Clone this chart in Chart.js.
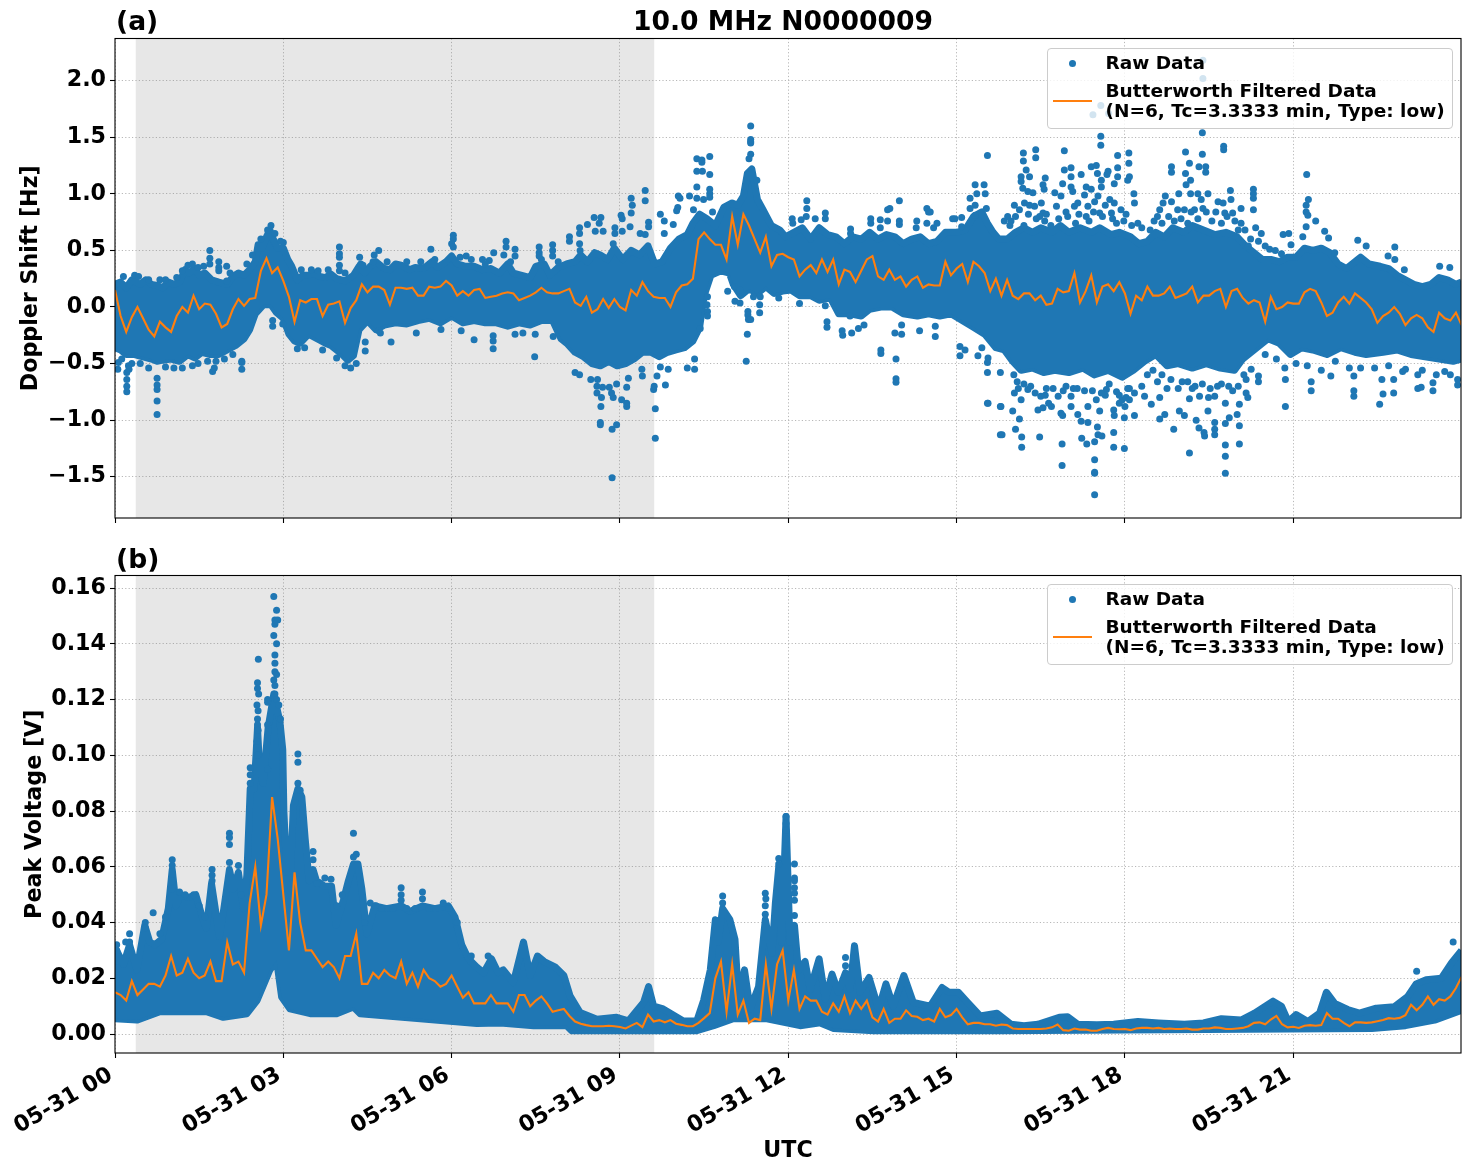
<!DOCTYPE html>
<html>
<head>
<meta charset="utf-8">
<title>10.0 MHz N0000009</title>
<script src="https://cdn.jsdelivr.net/npm/chart.js@4"></script>
<style>
    html, body { margin: 0; padding: 0; background: #fff; }
    #page { position: relative; width: 1471px; height: 1172px; overflow: hidden; font-family: "DejaVu Sans", sans-serif; font-weight: bold; color: #000; }
    canvas { position: absolute; left: 0; display: block; }
    #chartShift { top: 0; }
    #chartVoltage { top: 540px; }
    .lbl { position: absolute; white-space: nowrap; line-height: 1; }
    .title { font-size: 26.6px; }
    .legend { position: absolute; left: 1046.5px; width: 404px; height: 79px; background: rgba(255,255,255,0.8); border: 1px solid #ccc; border-radius: 4px; font-size: 18.5px; }
    .legend span { position: absolute; left: 58px; white-space: nowrap; line-height: 20px; }
    .legend .dot { position: absolute; left: 21.5px; top: 11px; width: 7px; height: 7px; border-radius: 50%; background: #1f77b4; }
    .legend .dash { position: absolute; left: 5px; top: 51px; width: 39px; height: 2px; background: #ff7f0e; }
</style>
</head>
<body>
<div id="page">
    <canvas id="chartShift" width="1471" height="540"></canvas>
    <canvas id="chartVoltage" width="1471" height="632"></canvas>

    <div class="lbl title" style="left:116px;top:8px">(a)</div>
    <div class="lbl title" style="left:633px;top:8px">10.0 MHz N0000009</div>
    <div class="lbl title" style="left:116px;top:546px">(b)</div>

    <div class="legend" style="top:48px">
        <i class="dot"></i><span style="top:4px">Raw Data</span>
        <i class="dash"></i><span style="top:32px">Butterworth Filtered Data<br>(N=6, Tc=3.3333 min, Type: low)</span>
    </div>
    <div class="legend" style="top:584px">
        <i class="dot"></i><span style="top:4px">Raw Data</span>
        <i class="dash"></i><span style="top:32px">Butterworth Filtered Data<br>(N=6, Tc=3.3333 min, Type: low)</span>
    </div>
</div>

<script>
// shaded night interval, hours UTC
const nightStart = 0.37;
const nightEnd = 9.61;

const hourTicks = [0, 3, 6, 9, 12, 15, 18, 21];
const hourLabels = ["05-31 00", "05-31 03", "05-31 06", "05-31 09", "05-31 12", "05-31 15", "05-31 18", "05-31 21"];
const shiftTickValues = [-1.5, -1, -0.5, 0, 0.5, 1, 1.5, 2];
const voltageTickValues = [0, 0.02, 0.04, 0.06, 0.08, 0.1, 0.12, 0.14, 0.16];

// low-pass filtered Doppler shift [Hz], one value every 0.1 h
const filteredShift = [
    .15,-.08,-.22,-.09,0,-.1,-.2,-.26,-.13,-.18,-.22,-.08,0,-.05,.1,-.02,.03,.02,-.06,-.18,
    -.15,-.02,.07,.01,.07,.08,.32,.43,.3,.35,.23,.09,-.13,.06,.04,.07,.07,-.08,.02,.03,
    .05,-.14,-.01,.06,.2,.13,.18,.18,.15,.02,.17,.17,.16,.17,.1,.1,.18,.17,.18,.23,
    .19,.1,.14,.1,.15,.16,.08,.09,.1,.12,.13,.12,.06,.08,.1,.13,.17,.13,.12,.12,
    .14,.16,.04,.01,.09,-.05,-.02,.07,-.01,.07,0,-.03,.15,.1,.22,.14,.09,.08,.08,0,
    .13,.19,.2,.25,.6,.66,.6,.55,.55,.42,.8,.55,.82,.72,.6,.48,.62,.36,.46,.47,
    .44,.42,.27,.33,.37,.3,.42,.31,.42,.2,.33,.31,.22,.32,.42,.45,.27,.24,.33,.24,
    .27,.18,.24,.27,.17,.2,.19,.19,.4,.28,.34,.38,.22,.4,.36,.3,.14,.25,.1,.24,
    .1,.07,.12,.12,.06,.1,.02,.03,.16,.13,.14,.3,.04,.14,.28,.04,.18,.2,.14,.22,
    .12,-.06,.1,.06,.18,.1,.1,.12,.18,.08,.1,.12,.18,.04,.1,.1,.14,.16,0,.14,
    .16,.08,.03,.06,.04,-.13,.09,-.02,0,.04,.03,.03,.13,.16,.14,.04,-.08,-.05,.04,.09,
    .03,.12,.08,.04,-.02,-.14,-.08,-.05,0,-.06,-.16,-.1,-.07,-.1,-.18,-.22,-.05,-.1,-.12,-.05,
    -.16
];

// low-pass filtered peak voltage [V], one value every 0.1 h
const filteredVoltage = [
    .015,.014,.012,.019,.014,.016,.018,.018,.017,.021,.028,.021,.022,.027,.022,.02,.021,.026,.019,.019,
    .033,.025,.026,.022,.047,.06,.039,.05,.085,.07,.05,.03,.058,.04,.03,.03,.027,.024,.026,.024,
    .02,.028,.028,.036,.018,.018,.022,.02,.023,.021,.02,.026,.018,.022,.017,.023,.02,.019,.017,.018,
    .021,.017,.013,.015,.011,.011,.011,.014,.011,.011,.011,.008,.014,.014,.01,.012,.0135,.011,.008,.0085,
    .009,.0065,.0045,.0037,.0032,.0028,.0028,.0028,.003,.0028,.0025,.002,.003,.004,.0025,.007,.0045,.005,.0042,.005,
    .0037,.0033,.0028,.0028,.004,.0057,.0075,.02,.026,.008,.025,.007,.012,.004,.0055,.005,.025,.009,.025,.03,
    .012,.023,.009,.0135,.012,.012,.008,.007,.011,.008,.0135,.0075,.012,.009,.012,.006,.0045,.009,.004,.0055,
    .0055,.0085,.0065,.0062,.005,.0055,.0045,.009,.006,.0068,.009,.006,.0035,.004,.004,.0035,.0035,.003,.0034,.0032,
    .002,.0018,.0018,.0018,.0018,.0018,.002,.0024,.0034,.0014,.0012,.002,.0016,.0016,.0012,.0012,.0018,.0022,.0018,.0017,
    .0018,.0014,.002,.0022,.0022,.002,.0022,.0018,.002,.0018,.0018,.002,.0016,.0016,.002,.002,.0024,.0022,.0018,.0018,
    .002,.0022,.0028,.004,.0042,.0035,.0052,.0065,.0035,.0024,.0026,.0022,.003,.0032,.003,.0032,.0075,.0055,.0055,.004,
    .0028,.0042,.0042,.004,.0042,.0046,.005,.0057,.0055,.0058,.0068,.0105,.0085,.0105,.0135,.0105,.0125,.012,.0135,.0165,
    .0205
];

// outer edges of the solid raw-data band, [hour, Hz]
const shiftBandTop = [
    [0,.2],[.1,.22],[.2,.17],[.3,.24],[.45,.2],[.55,.24],[.65,.2],[.75,.19],[.85,.17],[.95,.22],[1.05,.2],[1.15,.22],[1.25,.33],[1.32,.3],[1.42,.34],[1.5,.28],[1.6,.3],[1.72,.24],[1.85,.22],[2,.2],
    [2.1,.27],[2.2,.3],[2.3,.28],[2.4,.33],[2.5,.4],[2.55,.55],[2.62,.52],[2.7,.62],[2.76,.68],[2.82,.6],[2.9,.52],[3,.52],[3.08,.42],[3.15,.36],[3.25,.24],[3.35,.28],[3.45,.28],[3.55,.3],[3.65,.27],
    [3.75,.26],[3.85,.29],[3.95,.25],[4.1,.23],[4.25,.28],[4.35,.36],[4.45,.3],[4.55,.36],[4.65,.4],[4.8,.34],[4.9,.33],[5,.38],[5.1,.37],[5.25,.33],[5.35,.35],[5.5,.34],[5.65,.4],[5.75,.35],[5.9,.4],
    [6,.45],[6.1,.38],[6.25,.36],[6.4,.36],[6.55,.33],[6.7,.34],[6.85,.3],[7,.38],[7.1,.3],[7.25,.28],[7.4,.26],[7.5,.36],[7.65,.38],[7.75,.28],[7.9,.35],[8.05,.38],[8.2,.4],[8.3,.46],[8.42,.4],
    [8.55,.48],[8.65,.46],[8.78,.42],[8.9,.52],[9.05,.42],[9.2,.5],[9.35,.46],[9.5,.54],[9.62,.38],[9.75,.4],[9.9,.52],[10.05,.6],[10.2,.64],[10.3,.74],[10.42,.82],[10.55,.78],[10.7,.72],[10.85,.88],
    [11,.92],[11.1,.9],[11.2,.98],[11.27,1.18],[11.35,1.22],[11.45,.95],[11.55,.86],[11.7,.72],[11.85,.68],[11.95,.62],[12.1,.66],[12.25,.7],[12.4,.6],[12.55,.7],[12.7,.64],[12.85,.62],[13,.56],
    [13.15,.62],[13.3,.6],[13.45,.66],[13.6,.6],[13.75,.64],[13.9,.62],[14.05,.56],[14.2,.6],[14.35,.62],[14.5,.56],[14.65,.58],[14.8,.66],[15,.66],[15.15,.68],[15.3,.8],[15.45,.84],[15.55,.74],[15.65,.66],
    [15.75,.6],[15.9,.6],[16.05,.66],[16.2,.7],[16.35,.66],[16.5,.7],[16.7,.66],[16.85,.72],[17,.66],[17.2,.7],[17.4,.66],[17.55,.7],[17.75,.64],[17.9,.66],[18.1,.62],[18.25,.56],[18.4,.58],[18.55,.66],
    [18.7,.62],[18.85,.7],[19.05,.66],[19.2,.72],[19.4,.68],[19.6,.64],[19.8,.66],[20,.62],[20.15,.54],[20.3,.48],[20.45,.42],[20.6,.42],[20.75,.4],[20.9,.44],[21.05,.44],[21.2,.52],[21.35,.5],[21.5,.52],
    [21.65,.48],[21.8,.38],[21.95,.34],[22.1,.4],[22.2,.44],[22.35,.38],[22.55,.36],[22.7,.34],[22.85,.28],[23,.24],[23.15,.2],[23.3,.18],[23.45,.2],[23.6,.26],[23.75,.24],[23.9,.2],[24,.22]
];
const shiftBandBottom = [
    [0,-.36],[.1,-.38],[.2,-.42],[.35,-.42],[.5,-.44],[.65,-.46],[.75,-.48],[.85,-.47],[1,-.46],[1.15,-.48],[1.3,-.42],[1.42,-.45],[1.55,-.4],[1.7,-.42],[1.85,-.42],[2,-.38],[2.15,-.34],[2.3,-.28],[2.4,-.2],
    [2.5,-.06],[2.65,.02],[2.78,.02],[2.88,-.05],[3,-.1],[3.1,-.24],[3.2,-.3],[3.3,-.32],[3.45,-.24],[3.6,-.28],[3.75,-.32],[3.85,-.34],[3.95,-.38],[4.05,-.42],[4.15,-.47],[4.25,-.43],[4.35,-.2],[4.5,-.12],
    [4.65,-.2],[4.8,-.16],[5,-.14],[5.2,-.15],[5.4,-.12],[5.6,-.1],[5.8,-.14],[6,-.08],[6.2,-.14],[6.4,-.12],[6.6,-.14],[6.8,-.14],[7,-.17],[7.2,-.14],[7.4,-.16],[7.6,-.12],[7.8,-.12],[7.95,-.28],[8.05,-.32],
    [8.2,-.4],[8.35,-.44],[8.5,-.5],[8.65,-.52],[8.8,-.48],[8.95,-.52],[9.1,-.5],[9.25,-.46],[9.4,-.4],[9.55,-.4],[9.7,-.44],[9.85,-.4],[10,-.38],[10.15,-.36],[10.3,-.3],[10.42,-.18],[10.5,.1],[10.62,.28],
    [10.8,.32],[10.95,.3],[11.02,.2],[11.15,.1],[11.3,.16],[11.45,.12],[11.6,.18],[11.75,.12],[11.9,.14],[12.05,.15],[12.2,.1],[12.4,.1],[12.55,.06],[12.75,.08],[12.9,-.06],[13.1,-.06],[13.3,-.08],[13.45,-.02],
    [13.65,0],[13.85,0],[14.05,-.06],[14.3,-.08],[14.5,-.06],[14.7,-.08],[14.9,-.06],[15.1,-.12],[15.3,-.18],[15.5,-.24],[15.7,-.36],[15.85,-.38],[16,-.48],[16.15,-.56],[16.35,-.54],[16.55,-.58],[16.75,-.56],[17,-.58],
    [17.25,-.54],[17.45,-.6],[17.7,-.56],[17.95,-.62],[18.15,-.56],[18.35,-.48],[18.55,-.42],[18.75,-.52],[18.95,-.5],[19.2,-.54],[19.45,-.5],[19.7,-.54],[19.95,-.56],[20.1,-.46],[20.3,-.38],[20.55,-.28],[20.75,-.32],
    [20.95,-.42],[21.15,-.36],[21.35,-.38],[21.6,-.42],[21.85,-.36],[22.1,-.4],[22.3,-.42],[22.6,-.4],[22.85,-.38],[23.1,-.42],[23.35,-.44],[23.6,-.46],[23.85,-.48],[24,-.46]
];

// raw-data samples standing clear of the band, [hour, Hz]
const rawShift = [
    [.21,-.75],[.21,-.7],[.21,-.64],[.21,-.58],[.24,-.52],[.25,-.55],[.06,-.49],[.05,-.55],[.75,-.95],[.75,-.83],[.75,-.73],[.75,-.69],[.75,-.63],
    [1.69,.5],[1.69,.43],[1.69,.38],[1.85,.4],[1.85,.35],[1.85,.32],[1.99,.36],[1.99,.23],[1.74,-.57],[1.77,-.54],[2.26,-.55],[2.26,-.49],[2.26,-.48],
    [2.81,-.17],[2.81,-.12],[2.99,-.15],[3,.57],[4,.53],[4,.47],[4,.44],[4,.37],[4,.32],[4.36,.44],[4.38,.38],[4.7,.5],[4.62,.46],[4.46,-.39],[4.46,-.31],
    [4.7,-.21],[4.73,-.23],[4.92,-.31],[5.37,-.23],[5.63,.51],[6.03,.635],[6.03,.6],[6,.56],[6.03,.53],[6.26,.45],[6.75,.48],[6.55,.42],[6.67,.41],[6.4,-.29],
    [6.74,-.37],[6.74,-.3],[6.74,-.255],[5.81,-.2],[6.17,-.21],
    [.15,.27],[.35,.28],[.42,.27],[.6,.24],[.8,.24],[.9,.24],[1.1,.26],[1.2,.32],[1.3,.37],[1.38,.38],[1.48,.35],[1.58,.36],[2.05,.3],[2.35,.38],[2.45,.46],[2.6,.6],[2.72,.68],[2.78,.72],[2.85,.65],[2.95,.58],
    [3.32,.33],[3.5,.33],[3.62,.32],[3.8,.33],[4.1,.3],[4.42,.37],[4.6,.4],[4.85,.4],[5.2,.4],[5.45,.4],[5.7,.42],[6.15,.44],[6.35,.42],[6.6,.38],[7.05,.4],[7.6,.42],[7.9,.4],
    [.12,-.46],[.3,-.5],[.45,-.5],[.6,-.54],[.9,-.53],[1.05,-.54],[1.2,-.54],[1.38,-.52],[1.48,-.5],[1.65,-.48],[1.8,-.48],[1.95,-.46],[2.1,-.42],[3.25,-.37],[3.38,-.36],[3.7,-.38],[3.95,-.45],[4.1,-.52],[4.2,-.54],[4.3,-.5],
    [6.97,.58],[6.97,.53],[7.13,.51],[7.13,.45],[6.93,.46],[7.56,.53],[7.56,.48],[7.56,.45],[7.8,.55],[7.8,.5],[7.8,.45],[7.48,-.44],[7.13,-.24],[7.27,-.23],[7.49,-.24],[7.81,-.26],
    [8.28,.7],[8.28,.65],[8.28,.56],[8.29,.5],[8.42,.73],[8.54,.79],[8.66,.79],[8.63,.74],[8.56,.67],[8.7,.67],[8.91,.7],[8.91,.65],[8.88,.56],[9.02,.81],[9.04,.78],[9.04,.67],
    [9.2,.83],[9.22,.9],[9.2,.96],[9.45,1.03],[9.45,.94],[9.51,.75],[9.51,.71],[9.18,.71],[9.36,.65],[9.45,.64],[8.1,.62],[8.1,.58],
    [8.2,-.58],[8.28,-.6],[8.48,-.64],[8.6,-.64],[8.59,-.7],[8.59,-.76],[8.69,-.71],[8.67,-.8],[8.66,-.88],[8.65,-1.04],[8.65,-1.02],[8.86,-1.08],[8.94,-1.04],[8.86,-1.51],
    [8.88,-.8],[8.85,-.76],[8.94,-.68],[8.81,-.71],[9.03,-.82],[9.12,-.88],[9.12,-.85],[9.12,-.71],[9.15,-.63],[9.4,-.61],[9.39,-.55],[9.6,-.73],[9.61,-.7],[9.63,-.9],[9.63,-1.16],
    [9.81,-.69],[9.86,-.55],[10.2,-.54],[10.33,-.55],[10.33,-.46],[9.72,-.53],[9.66,-.61],
    [9.72,.82],[9.79,.76],[9.79,.65],[9.95,.73],[10.04,.98],[10.07,.96],[10.03,.88],[10.01,.85],[10.24,.98],[10.31,.86],[10.37,1.31],[10.37,1.2],[10.37,1.06],
    [10.46,1.3],[10.46,1.28],[10.47,1.2],[10.6,1.33],[10.6,1.17],[10.6,1.04],[10.6,1],[10.6,.97],[10.37,.96],[10.49,.95],[10.65,.84],
    [11.33,1.6],[11.33,1.48],[11.33,1.46],[11.33,1.45],[11.33,1.35],[11.3,1.31],[11.44,1.12],
    [10.56,.09],[10.55,.02],[10.56,-.04],[10.56,-.08],[10.43,-.19],[10.92,.14],[11.04,.18],[11.14,.15],[11.05,.05],[11.14,.035],[11.28,-.04],[11.28,-.07],[11.29,-.11],[11.33,-.11],
    [11.27,-.24],[11.25,-.48],[11.38,.09],[11.49,-.05],[11.49,.02],[11.5,.09],[11.83,.08],[12.2,.03],[12.66,.01],
    [12.33,.94],[12.33,.87],[12.32,.8],[12.07,.78],[12.08,.74],[12.23,.77],[12.66,.83],[12.66,.78],[12.48,.78],[13.11,.69],[13.11,.65],[13.47,.78],[13.47,.74],[13.64,.77],[13.64,.7],
    [13.77,.86],[13.81,.87],[13.98,.94],[13.98,.76],[13.98,.73],[13.77,.76],[14.29,.76],[14.28,.7],[14.47,.87],[14.5,.84],[14.53,.84],[14.47,.74],[14.59,.7],[14.65,.74],
    [14.93,.78],[14.97,.78],[15.09,.79],[15.09,.71],[15.24,.96],[15.33,.9],[15.33,1.08],[15.36,1],[15.49,1.08],[15.51,1],[15.24,.87],[15.33,.81],[15.53,.87],[15.55,1.34],
    [12.69,-.13],[12.69,-.18],[12.96,-.21],[12.97,-.25],[13.13,-.23],[13.1,-.08],[13.25,-.19],[13.35,-.16],[13.65,-.38],[13.65,-.41],[13.92,-.46],[13.92,-.635],[13.92,-.665],
    [14.02,-.16],[14.02,-.24],[13.9,-.23],[14.34,-.21],[14.62,-.17],[14.62,-.26],[15.06,-.35],[15.06,-.43],[15.15,-.38],[15.38,-.43],[15.45,-.36],[15.56,-.45],[15.55,-.49],[15.55,-.58],
    [15.55,-.85],[15.78,-.88],[15.78,-1.13],[15.78,-.58],
    [16.19,1.36],[16.19,1.29],[16.41,1.39],[16.41,1.32],[16.92,1.38],[17.57,1.51],[17.57,1.43],[18.07,1.36],[18.07,1.27],[17.87,1.34],[19.08,1.37],[19.38,1.54],[19.38,1.35],
    [19.76,1.42],[19.76,1.39],[19.15,1.27],[19.08,1.18],[19.32,1.24],[19.44,1.24],[19.44,1.19],[18.83,1.24],[18.83,1.19],[21.24,1.17],[21.27,.95],
    [17.43,1.7],[17.57,1.78],[17.71,1.71],[19.39,2.18],[19.39,2.02],
    [15.85,.76],[15.91,.8],[15.97,.76],[16.03,.9],[16.15,1.15],[16.15,1.11],[16.18,1.05],[16.24,1.21],[16.3,1.15],[16.21,.92],[16.27,1.02],[16.3,.9],[16.12,.86],[16.36,1.01],[16.39,.89],
    [16.54,1.08],[16.56,1.04],[16.51,.92],[16.58,1.14],[16.54,.83],[16.48,.8],[16.57,.76],[16.75,1.01],[16.78,.89],[16.86,.98],[16.89,1.09],[16.95,.84],[16.92,1.21],[17.04,1.23],
    [17.04,1.15],[17.04,1.06],[17.07,1.02],[17.1,.89],[17.22,1.17],[17.31,1.06],[17.28,.99],[17.16,.92],[17.34,.89],[17.31,.8],[17.4,1.24],[17.49,1.25],[17.51,1.18],[17.4,1.04],
    [17.52,.98],[17.46,.93],[17.58,1.12],[17.58,1.06],[17.7,1.2],[17.68,1.17],[17.73,.95],[17.55,.83],[17.81,.92],[17.87,1.23],[17.87,1.15],[17.81,1.09],[17.93,.86],[18.08,1.15],
    [18.05,1.12],[18.16,1],[18.17,.92],[18.23,.74],[17.76,.83],[18.62,.86],[18.68,.92],[18.72,.98],[18.83,.93],[18.96,1],[18.94,.86],[19.06,.86],[19.17,1],[19.18,.84],[19.17,1.12],
    [19.09,1.08],[19.3,1],[19.36,.95],[19.48,1],[19.39,.87],[19.66,.93],[19.75,.92],[19.78,.83],[19.89,.95],[19.92,.83],[19.88,1.03],[20.07,.87],[20.07,.74],[20.29,1.04],[20.29,1],
    [20.29,.96],[20.29,.86],[20.33,.7],[20.43,.65],[20.2,.54],[20.58,.51],[20.79,.47],[20.82,.64],[20.92,.65],[20.96,.55],[21.17,.62],[21.23,.9],[21.23,.84],[21.26,.81],[21.4,.76],
    [21.23,.71],[21.56,.67],[21.63,.61],[22.15,.59],[22.3,.54],[22.81,.53],[22.69,.45],[23.61,.36],[23.79,.35],[22.98,.33],[22.81,.42],[21.74,.48],
    [15.95,.72],[16.05,.8],[16.2,.72],[16.28,.82],[16.42,.78],[16.6,.82],[16.68,.72],[16.82,.78],[16.98,.8],[17.12,.74],[17.18,.82],[17.36,.76],[17.44,.84],[17.6,.8],[17.65,.9],[17.78,.78],[17.85,.74],[17.98,.76],[18.02,.82],[18.12,.72],
    [18.3,.7],[18.45,.68],[18.52,.76],[18.58,.8],[18.66,.74],[18.78,.8],[18.88,.76],[19,.78],[19.12,.74],[19.24,.86],[19.3,.78],[19.45,.84],[19.55,.76],[19.62,.84],[19.72,.74],[19.82,.8],[19.96,.76],[20.02,.68],[20.14,.68],[20.24,.6],[20.38,.58],[20.5,.54],[20.68,.5],
    [15.56,-.85],[15.79,-.88],[15.81,-1.13],[16,-.92],[16.12,-.99],[16.05,-1.08],[16.16,-1.15],[16.16,-1.24],[16.48,-1.15],[16.5,-.79],[16.69,-.88],[16.64,-.85],[16.86,-.94],[16.89,-.96],
    [16.88,-1.21],[16.88,-1.4],[17.04,-.79],[17.16,-.95],[17.22,-1.01],[17.34,-1.02],[17.23,-1.16],[17.32,-1.21],[17.46,-1.19],[17.46,-1.35],[17.46,-1.46],[17.46,-1.47],[17.46,-1.66],
    [17.51,-1.06],[17.52,-1.13],[17.59,-1.14],[17.8,-1.11],[17.8,-1.24],[17.99,-1.25],[17.99,-.98],[17.8,-.91],[17.81,-.96],[18.17,-.96],[18.08,-.82],[18.17,-.76],[16.15,-.82],[16.27,-.73],
    [16.03,-.76],[16.45,-.91],[16.54,-.89],[16.81,-.79],[17.04,-.88],[17.34,-.88],[17.55,-.92],[17.67,-.73],[17.49,-.82],[18.35,-.79],[18.47,-.86],[18.62,-.99],[18.71,-.95],[18.62,-.8],
    [18.87,-1.08],[18.97,-.92],[19.06,-.96],[19.15,-.81],[19.15,-1.29],[19.27,-1],[19.32,-1.07],[19.41,-1.11],[19.42,-1.14],[19.48,-.92],[19.6,-1.02],[19.6,-1.08],[19.6,-1.13],
    [19.33,-.79],[19.49,-.8],[19.6,-.79],[19.79,-.85],[19.79,-1.03],[19.79,-1.22],[19.79,-1.32],[19.79,-1.47],[19.86,-.98],[20,-.95],[20.04,-1.05],[20.04,-1.21],[20.04,-.86],[20.16,-.76],
    [20.19,-.8],[20.16,-.64],[20.38,-.61],[20.38,-.66],[20.86,-.64],[20.86,-.88],[21.32,-.66],[21.32,-.74],[21.67,-.61],[22.08,-.61],[22.08,-.74],[22.08,-.79],[22.54,-.86],[22.58,-.64],
    [22.6,-.77],[22.79,-.76],[22.79,-.64],[22.95,-.57],[23.22,-.72],[23.28,-.71],[23.49,-.74],[23.49,-.67],[23.93,-.69],[23.93,-.64],[23.22,-.6],[23.7,-.57],
    [16.1,-.72],[16.6,-.72],[16.95,-.7],[17.15,-.72],[17.65,-.78],[17.85,-.75],[18.05,-.72],[18.3,-.7],[18.75,-.72],[18.95,-.72],[19.2,-.72],[19.65,-.7],[19.85,-.7],[17.95,-.82],[17.9,-.85],[18,-.88],[18.02,-.8],
    [16.02,-.6],[16.08,-.66],[16.2,-.68],[16.32,-.7],[16.4,-.76],[16.58,-.78],[16.72,-.72],[16.9,-.74],[17.08,-.72],[17.28,-.74],[17.42,-.74],[17.58,-.76],[17.72,-.68],[17.9,-.78],[18.08,-.72],
    [18.4,-.6],[18.5,-.56],[18.58,-.66],[18.66,-.6],[18.82,-.64],[19.02,-.66],[19.12,-.66],[19.25,-.7],[19.38,-.68],[19.52,-.72],[19.72,-.68],[19.92,-.74],[20.02,-.7],[20.12,-.6],[20.25,-.55],[20.5,-.42],[20.7,-.46],[20.85,-.54],
    [21.05,-.5],[21.25,-.52],[21.5,-.56],[21.75,-.48],[22,-.54],[22.2,-.54],[22.45,-.54],[22.7,-.52],[23,-.55],[23.3,-.56],[23.55,-.6],[23.8,-.6]
];

const voltageBandTop = [
    [0,.025],[.03,.03],[.15,.025],[.26,.032],[.39,.023],[.53,.039],[.62,.033],[.71,.032],[.83,.034],[.95,.045],[1.02,.059],[1.09,.046],[1.16,.05],[1.31,.049],[1.44,.05],[1.57,.041],
    [1.63,.038],[1.72,.054],[1.78,.046],[1.86,.035],[1.94,.045],[2.04,.059],[2.11,.052],[2.2,.058],[2.29,.045],[2.35,.057],[2.41,.088],[2.48,.088],[2.54,.11],[2.57,.098],[2.64,.09],
    [2.73,.11],[2.83,.122],[2.94,.112],[2.99,.102],[3.01,.08],[3.06,.058],[3.13,.059],[3.18,.082],[3.26,.088],[3.33,.085],[3.39,.07],[3.46,.055],[3.53,.059],[3.59,.055],[3.74,.053],
    [3.86,.053],[3.94,.039],[4.07,.048],[4.16,.055],[4.25,.061],[4.33,.061],[4.4,.052],[4.49,.036],[4.63,.046],[4.84,.045],[5.1,.046],[5.26,.044],[5.48,.046],[5.7,.045],[5.94,.046],
    [6.06,.042],[6.18,.032],[6.3,.027],[6.45,.024],[6.57,.022],[6.71,.027],[6.83,.022],[6.92,.023],[7.1,.0185],[7.28,.033],[7.4,.021],[7.53,.028],[7.65,.026],[7.85,.024],[8,.021],
    [8.11,.0137],[8.29,.0077],[8.59,.0053],[8.94,.006],[9.15,.0047],[9.27,.0077],[9.42,.0113],[9.51,.017],[9.6,.01],[9.77,.009],[10.13,.0047],[10.37,.0047],[10.49,.012],[10.61,.023],
    [10.7,.041],[10.75,.033],[10.83,.045],[10.96,.041],[11.05,.034],[11.11,.0137],[11.22,.023],[11.32,.009],[11.47,.017],[11.59,.041],[11.71,.029],[11.77,.047],[11.83,.06],[11.88,.033],
    [11.96,.078],[12.03,.033],[12.11,.039],[12.18,.023],[12.3,.026],[12.39,.016],[12.55,.027],[12.66,.0125],[12.78,.0215],[12.89,.015],[13.02,.022],[13.1,.016],[13.18,.0317],[13.28,.015],
    [13.44,.0203],[13.61,.009],[13.74,.018],[13.87,.01],[14.06,.021],[14.23,.0113],[14.53,.01],[14.74,.0167],[14.86,.015],[15.03,.015],[15.2,.0113],
    [15.42,.0065],[15.72,.0075],[15.97,.0035],[16.2,.003],[16.45,.0035],[16.83,.006],[16.98,.0062],[17.16,.0035],[17.5,.0033],[17.8,.0035],[18.23,.0045],[18.6,.004],[19.06,.0035],[19.4,.004],
    [19.72,.0055],[20.07,.005],[20.31,.0075],[20.64,.0118],[20.79,.01],[20.91,.0045],[21.05,.007],[21.26,.0045],[21.47,.0075],[21.59,.015],[21.74,.011],[21.97,.0088],[22.18,.0075],[22.48,.0093],
    [22.8,.0098],[23.04,.0135],[23.19,.018],[23.37,.0195],[23.64,.02],[23.82,.0255],[24,.03]
];
const voltageBandBottom = [
    [0,.0055],[.39,.005],[.8,.008],[1.28,.008],[1.63,.008],[1.93,.006],[2.35,.0073],[2.53,.012],[2.76,.023],[2.88,.0265],[2.97,.0133],[3.12,.009],[3.48,.0073],[3.95,.0073],[4.25,.0097],
    [4.37,.0073],[5.44,.0055],[6.45,.0038],[6.87,.004],[7.46,.003],[8.05,.003],[8.14,.0012],[9.6,.0012],[10.37,.0012],[10.67,.003],[11.02,.0055],[11.62,.0055],[11.97,.004],[12.21,.003],
    [12.57,.004],[12.81,.002],[13.52,.0012],[14.6,.0012],[15.78,.0012],[22.4,.002],[23,.003],[23.52,.005],[24,.0085]
];

const rawVoltage = [
    [2.555,.1345],[2.83,.157],[2.88,.152],[2.85,.1485],[2.9,.1485],[2.85,.147],[2.83,.143],[2.88,.14],[2.85,.136],[2.85,.133],[2.85,.13],[2.88,.129],[2.83,.127],[2.85,.125],[2.85,.122],[2.88,.12],[2.92,.118],[2.95,.113],
    [2.54,.126],[2.54,.124],[2.56,.122],[2.53,.118],[2.55,.116],[2.54,.113],[2.72,.12],[2.72,.119],[2.72,.111],[2.54,.111],[2.55,.109],[2.53,.105],[2.56,.1],[2.54,.1],[2.41,.0955],[2.41,.093],[2.41,.09],[2.72,.095],
    [3.26,.1005],[3.26,.0975],[3.26,.09],[3.3,.0875],[2.04,.072],[2.04,.0705],[2.04,.068],[2.04,.0615],[1.02,.0625],[1.02,.0605],[1.02,.055],[1.02,.052],[1.73,.059],[1.73,.057],[1.73,.055],[2.2,.0605],
    [4.25,.072],[4.3,.0645],[4.25,.0635],[3.53,.0655],[3.53,.0625],[3.74,.056],[3.85,.0555],[.54,.04],[.54,.038],[.26,.036],[.26,.033],[.68,.0435],[.19,.033],[.03,.032],[.03,.03],[5.1,.0525],[5.1,.05],[5.1,.048],[5.48,.051],[5.48,.0485],
    [.8,.036],[.9,.042],[1.15,.051],[1.25,.05],[1.4,.05],[1.5,.046],[1.6,.042],[2.25,.05],[3.6,.054],[3.95,.046],[4.05,.05],[4.45,.04],[4.55,.047],[4.65,.046],[4.75,.045],[4.95,.045],[5.2,.045],[5.35,.045],[5.6,.045],[5.85,.047],[5.95,.045],[6.1,.04],[6.35,.028],[6.65,.028],
    [10.83,.0495],[10.83,.047],[11.59,.0505],[11.6,.0485],[11.59,.046],[11.59,.043],[11.83,.063],[11.83,.061],[11.96,.078],[11.96,.0755],[11.96,.073],[11.96,.07],[11.96,.066],[12.11,.061],[12.11,.056],[12.11,.055],[12.11,.0525],[12.11,.0505],[12.11,.048],[12.11,.0425],
    [13.02,.0275],[13.02,.0245],[23.85,.033],[23.2,.0225]
];

const BLUE = "#1f77b4";
const ORANGE = "#ff7f0e";
const TICK_FONT = { family: "DejaVu Sans", weight: "bold", size: 22.2 };

function toPoints(pairs) {
    return pairs.map(p => ({ x: p[0], y: p[1] }));
}

// evenly spaced filtered series on the hour axis
function filteredPoints(values) {
    return values.map((v, i) => ({ x: i / 10, y: v }));
}

// gray night span under the data, plus the black axes frame on top
const panelPlugin = {
    id: "panel",
    beforeDatasetsDraw(chart) {
        const { ctx, chartArea, scales } = chart;
        const x0 = scales.x.getPixelForValue(nightStart);
        const x1 = scales.x.getPixelForValue(nightEnd);
        ctx.save();
        ctx.fillStyle = "rgba(128,128,128,0.19)";
        ctx.fillRect(x0, chartArea.top, x1 - x0, chartArea.height);
        ctx.restore();
    },
    afterDraw(chart) {
        const { ctx, chartArea } = chart;
        ctx.save();
        ctx.strokeStyle = "#000";
        ctx.lineWidth = 1.1;
        ctx.strokeRect(chartArea.left, chartArea.top, chartArea.width, chartArea.height);
        ctx.restore();
    }
};

function drawPanel(canvasId, cfg) {
    const grid = { color: "#b0b0b0", lineWidth: 0.9, tickColor: "#000", tickLength: 5, tickWidth: 1.1, tickBorderDash: [] };
    const border = { display: false, dash: [1.2, 2.2] };
    return new Chart(document.getElementById(canvasId), {
        type: "line",
        data: {
            datasets: [
                { data: filteredPoints(cfg.filtered), borderColor: ORANGE, borderWidth: 2.1, pointRadius: 0, tension: 0, order: 0 },
                { data: toPoints(cfg.raw), showLine: false, pointRadius: 3.5, pointBackgroundColor: BLUE, pointBorderWidth: 0, order: 1 },
                { data: toPoints(cfg.bandTop), borderColor: BLUE, borderWidth: 7, borderJoinStyle: "round", backgroundColor: BLUE, pointRadius: 0, tension: 0, fill: "+1", order: 2 },
                { data: toPoints(cfg.bandBottom), borderColor: BLUE, borderWidth: 7, borderJoinStyle: "round", pointRadius: 0, tension: 0, fill: false, order: 3 }
            ]
        },
        options: {
            responsive: false,
            animation: false,
            events: [],
            layout: { autoPadding: false, padding: { top: cfg.top, right: 10, left: 0, bottom: 0 } },
            plugins: { legend: { display: false }, tooltip: { enabled: false } },
            scales: {
                x: {
                    type: "linear",
                    bounds: "data",
                    min: 0,
                    max: 23.99,
                    afterFit: s => { s.height = cfg.xHeight; },
                    afterBuildTicks: s => { s.ticks = hourTicks.map(h => ({ value: h })); },
                    border: border,
                    grid: grid,
                    ticks: {
                        display: cfg.showHours,
                        autoSkip: false,
                        maxRotation: 30,
                        minRotation: 30,
                        padding: 4,
                        labelOffset: -4,
                        color: "#000",
                        font: TICK_FONT,
                        callback: v => hourLabels[hourTicks.indexOf(v)]
                    },
                    title: {
                        display: cfg.showHours,
                        text: "UTC",
                        color: "#000",
                        font: TICK_FONT,
                        padding: { top: 0, bottom: 7 }
                    }
                },
                y: {
                    type: "linear",
                    bounds: "data",
                    min: cfg.yMin,
                    max: cfg.yMax,
                    afterFit: s => { s.width = 115; },
                    afterBuildTicks: s => { s.ticks = cfg.yTicks.map(v => ({ value: v })); },
                    border: border,
                    grid: grid,
                    ticks: {
                        autoSkip: false,
                        padding: 4,
                        color: "#000",
                        font: TICK_FONT,
                        callback: v => v.toFixed(cfg.digits).replace("-", "\u2212")
                    },
                    title: {
                        display: true,
                        text: cfg.yTitle,
                        color: "#000",
                        font: TICK_FONT,
                        padding: { top: cfg.yTitlePad, bottom: 0 }
                    }
                }
            }
        },
        plugins: [panelPlugin]
    });
}

drawPanel("chartShift", {
    filtered: filteredShift, raw: rawShift, bandTop: shiftBandTop, bandBottom: shiftBandBottom,
    yTicks: shiftTickValues, yMin: -1.865, yMax: 2.373, digits: 1, yTitle: "Doppler Shift [Hz]", yTitlePad: 18,
    top: 38.5, xHeight: 22, showHours: false
});
drawPanel("chartVoltage", {
    filtered: filteredVoltage, raw: rawVoltage, bandTop: voltageBandTop, bandBottom: voltageBandBottom,
    yTicks: voltageTickValues, yMin: -0.0068, yMax: 0.1645, digits: 2, yTitle: "Peak Voltage [V]", yTitlePad: 22,
    top: 35.5, xHeight: 119, showHours: true
});
</script>
</body>
</html>
